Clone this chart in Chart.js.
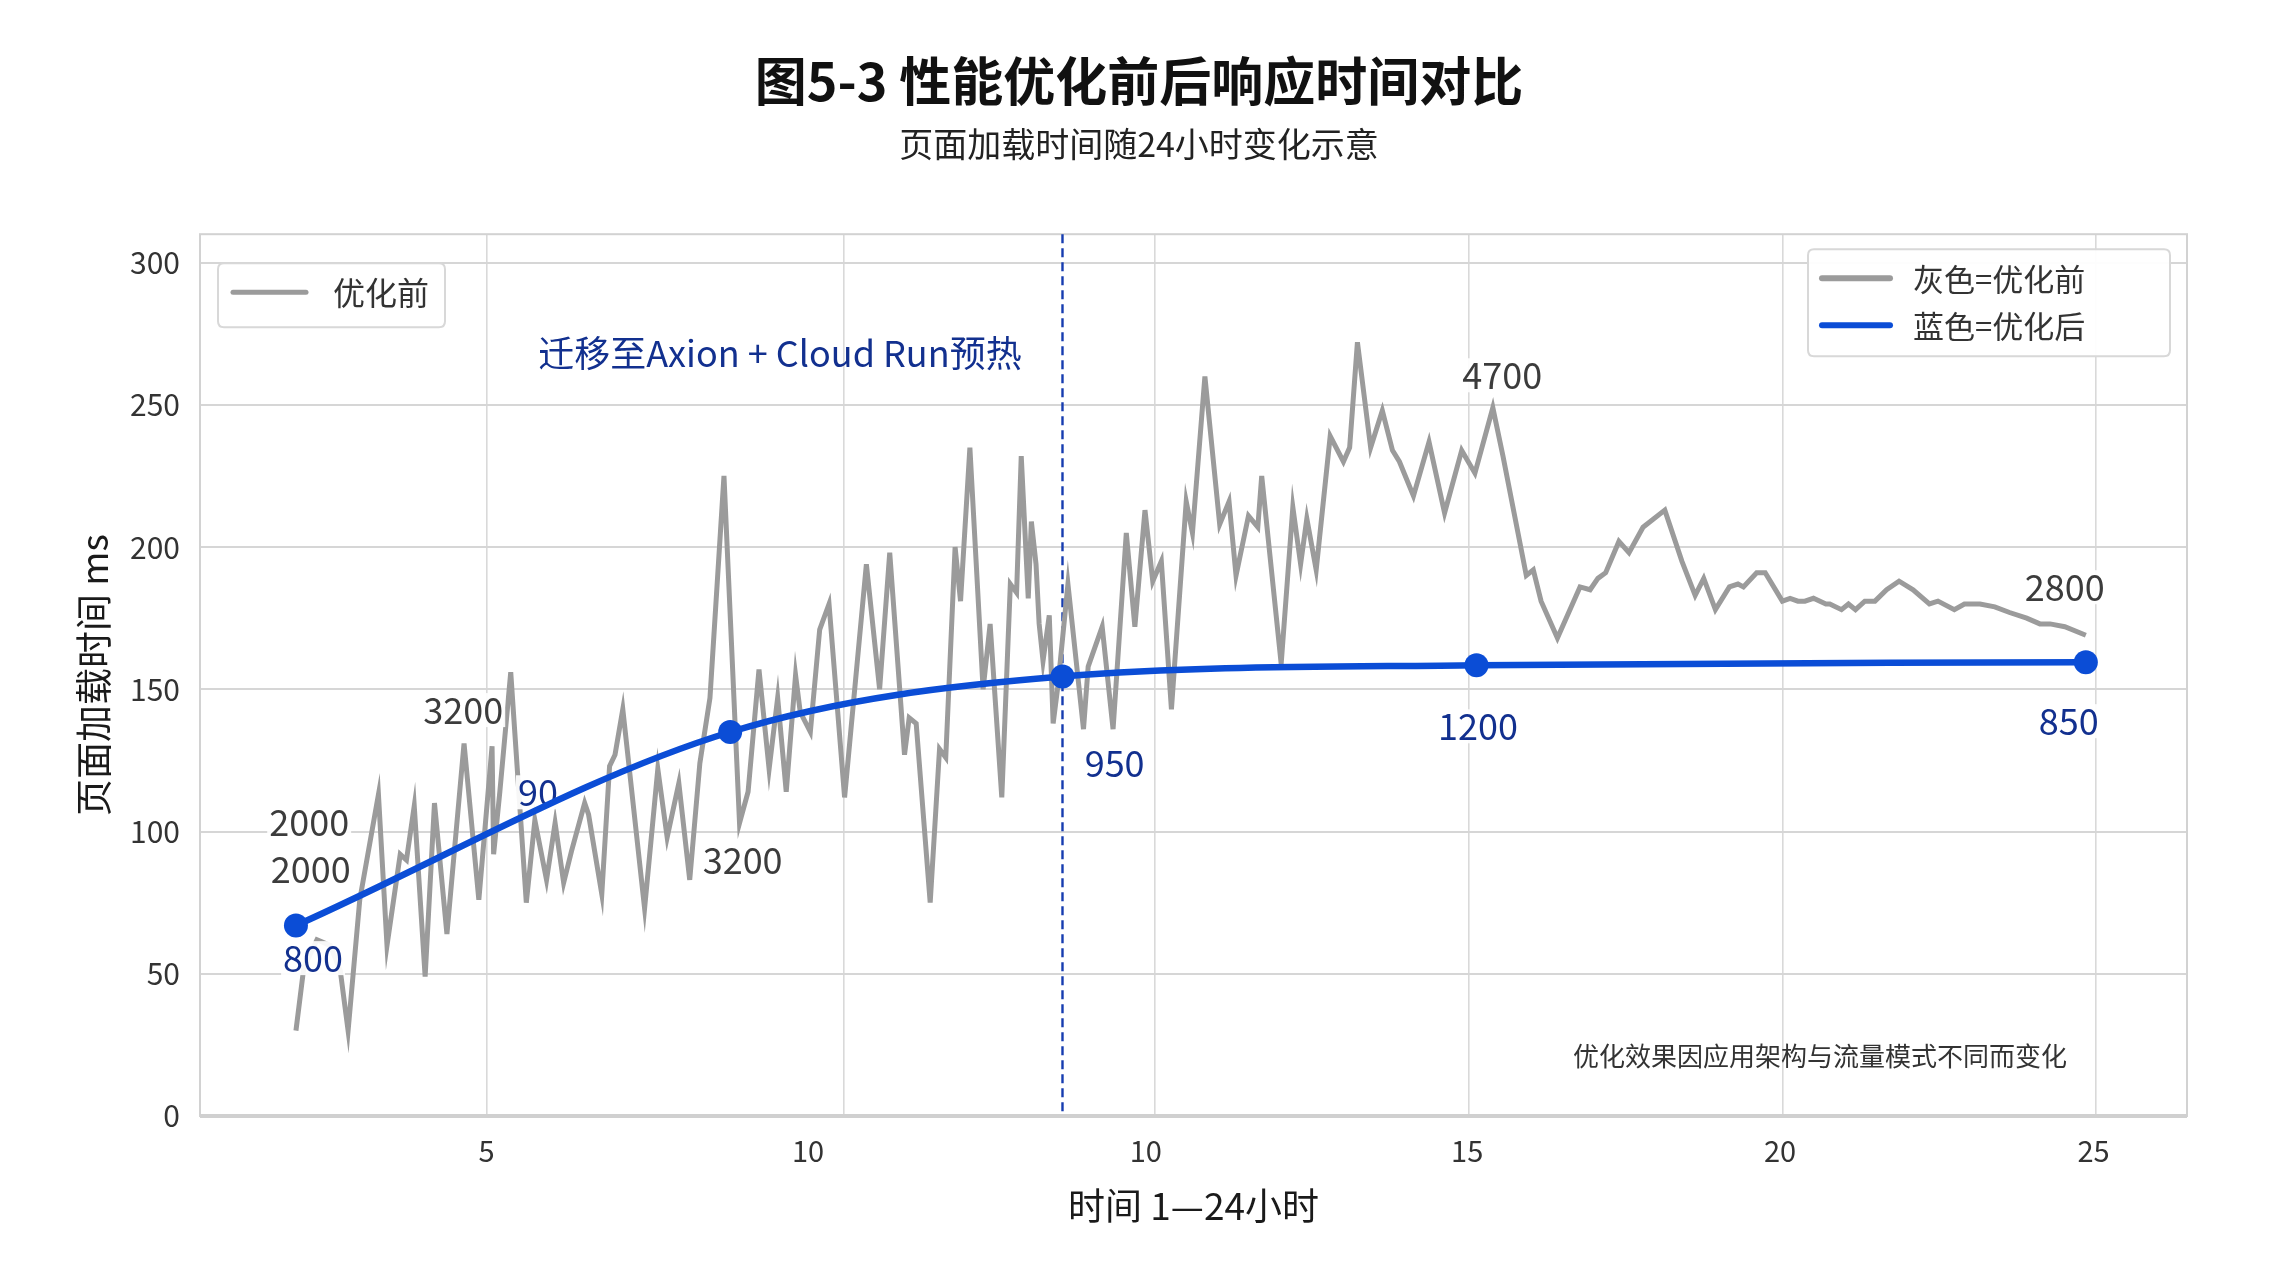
<!DOCTYPE html>
<html>
<head>
<meta charset="utf-8">
<script src="https://cdn.jsdelivr.net/npm/chart.js@4/dist/chart.umd.min.js"></script>
<style>
html,body{margin:0;padding:0;background:#ffffff;}
#wrap{width:2278px;height:1280px;}
</style>
</head>
<body>
<div id="wrap"><canvas id="c" width="2278" height="1280"></canvas></div>
<script>
// ---------- texts ----------
const titleText = '图5-3 性能优化前后响应时间对比';
const subtitleText = '页面加载时间随24小时变化示意';
const yTitleText = '页面加载时间 ms';
const xTitleText = '时间 1—24小时';
const seriesNames = ['优化前', '优化后'];
const legendLeftItems = ['优化前'];
const legendRightItems = ['灰色=优化前', '蓝色=优化后'];
const annotationText = '迁移至Axion + Cloud Run预热';
const footnoteText = '优化效果因应用架构与流量模式不同而变化';

// ---------- series: before optimisation (gray) ----------
const beforeHours = [
  1.00,1.10,1.27,1.44,1.57,1.67,1.82,2.06,2.17,2.34,2.42,2.52,2.66,2.78,2.94,3.16,3.35,3.52,3.54,3.62,
  3.76,3.96,4.07,4.22,4.33,4.44,4.54,4.71,4.76,4.93,5.03,5.10,5.20,5.48,
  5.65,5.77,5.92,6.06,6.19,6.32,6.50,6.70,6.81,6.95,7.08,7.19,7.30,7.42,7.48,7.61,7.73,7.85,8.05,8.33,
  8.50,8.63,8.82,8.88,8.97,9.15,9.27,9.35,9.47,9.54,9.66,9.83,9.92,10.07,10.18,
  10.26,10.32,10.41,10.45,10.51,10.55,10.60,10.68,10.73,10.79,10.92,11.12,11.18,11.36,11.50,11.67,11.78,
  11.91,12.01,12.12,12.25,12.44,12.52,12.68,12.87,12.99,13.08,13.24,13.36,13.41,13.66,13.81,13.91,13.99,
  14.11,14.29,14.46,14.54,14.64,14.81,
  14.96,15.09,15.18,15.36,15.56,15.76,15.98,16.15,16.38,16.51,16.81,16.90,17.00,17.21,17.50,17.63,17.73,
  17.83,18.00,18.13,18.31,18.59,18.81,18.98,19.09,19.24,
  19.42,19.53,19.60,19.77,19.88,20.10,20.20,20.30,20.39,20.50,20.66,20.71,20.86,20.95,21.04,21.16,21.29,
  21.44,21.60,21.78,21.99,22.10,22.31,22.44,22.64,22.83,23.02,23.24,23.41,23.54,23.73,24.00
];
const beforeValues = [
  30,52,62,60,51,30,76,113,60,92,90,109,49,110,64,131,76,130,92,114,
  156,75,104,83,103,82,93,110,106,78,123,127,143,73,
  122,98,117,83,124,147,225,103,114,157,122,147,114,155,142,135,171,180,112,194,
  150,198,127,140,138,75,129,126,200,181,235,150,173,112,187,
  184,232,182,209,194,173,160,176,138,151,187,136,158,172,136,205,172,
  213,188,195,143,216,205,260,208,216,190,211,207,225,159,214,194,210,
  192,239,230,235,272,235,
  248,234,230,218,237,212,234,226,249,232,190,192,181,168,186,185,189,
  191,202,198,207,213,195,183,189,178,
  186,187,186,191,191,181,182,181,181,182,180,180,178,180,178,181,181,
  185,188,185,180,181,178,180,180,179,177,175,173,173,172,169
];

// ---------- series: after optimisation (blue) ----------
const afterHours = [1.00, 6.58, 10.85, 16.17, 24.00];
const afterValues = [67, 135, 154.5, 158.5, 159.5];
const migrationHour = 10.85;

// ---------- axes ----------
const xMin = -0.233, xMax = 25.30;
const yMin = 0, yMax = 310;
const yTickValues = [0, 50, 100, 150, 200, 250, 300];
const xGridHours = [3.45, 8.04, 12.04, 16.07, 20.11, 24.13];
const xTickHours = [3.45, 7.58, 11.92, 16.05, 20.07, 24.10];
const xTickLabels = ['5', '10', '10', '15', '20', '25'];

// ---------- point labels ----------
const grayLabelText = ['2000', '2000', '3200', '3200', '4700', '2800'];
const grayLabelHour = [1.17, 1.19, 3.15, 6.74, 16.50, 23.73];
const grayLabelValue = [103.3, 86.8, 142.7, 90, 260.4, 185.9];
const blueLabelText = ['800', '90', '950', '1200', '850'];
const blueLabelHour = [1.22, 4.11, 11.52, 16.19, 23.78];
const blueLabelValue = [55.5, 113.8, 124, 137, 138.8];
const annotationHour = 7.22, annotationValue = 268;

const FONT = '"Noto Sans CJK SC", "Noto Sans", sans-serif';
const GRAY = '#9b9b9b';
const BLUE = '#0b4dd6';
const NAVY = '#12308f';

Chart.defaults.font.family = FONT;

function roundRect(ctx, x, y, w, h, r) {
  ctx.beginPath();
  ctx.moveTo(x + r, y);
  ctx.lineTo(x + w - r, y);
  ctx.quadraticCurveTo(x + w, y, x + w, y + r);
  ctx.lineTo(x + w, y + h - r);
  ctx.quadraticCurveTo(x + w, y + h, x + w - r, y + h);
  ctx.lineTo(x + r, y + h);
  ctx.quadraticCurveTo(x, y + h, x, y + h - r);
  ctx.lineTo(x, y + r);
  ctx.quadraticCurveTo(x, y, x + r, y);
  ctx.closePath();
}

function drawLabel(ctx, text, px, py, color) {
  const w = ctx.measureText(text).width;
  ctx.fillStyle = 'rgba(255,255,255,0.92)';
  ctx.fillRect(px - w / 2 - 2, py - 17, w + 4, 34);
  ctx.fillStyle = color;
  ctx.fillText(text, px, py);
}

const deco = {
  id: 'deco',
  beforeDatasetsDraw(chart) {
    const {ctx, chartArea: a, scales} = chart;
    const x = scales.x;
    ctx.save();
    // frame
    ctx.strokeStyle = '#d2d2d2';
    ctx.lineWidth = 2;
    ctx.strokeRect(a.left, a.top, a.right - a.left, a.bottom - a.top);
    ctx.strokeStyle = '#d0d0d0';
    ctx.lineWidth = 4;
    ctx.beginPath(); ctx.moveTo(a.left, a.bottom); ctx.lineTo(a.right, a.bottom); ctx.stroke();
    // migration dashed line
    const px = x.getPixelForValue(migrationHour);
    ctx.strokeStyle = '#163cb0';
    ctx.lineWidth = 2.4;
    ctx.setLineDash([9, 5]);
    ctx.beginPath(); ctx.moveTo(px, a.top); ctx.lineTo(px, a.bottom); ctx.stroke();
    ctx.setLineDash([]);
    ctx.restore();
  },
  afterDatasetDraw(chart, args) {
    if (args.index !== 0) return;
    const {ctx, scales} = chart;
    const x = scales.x, y = scales.y;
    ctx.save();
    ctx.textAlign = 'center';
    ctx.textBaseline = 'middle';
    ctx.font = '36px ' + FONT;
    grayLabelText.forEach((t, i) => {
      drawLabel(ctx, t, x.getPixelForValue(grayLabelHour[i]), y.getPixelForValue(grayLabelValue[i]), '#3c3c3c');
    });
    blueLabelText.forEach((t, i) => {
      drawLabel(ctx, t, x.getPixelForValue(blueLabelHour[i]), y.getPixelForValue(blueLabelValue[i]), NAVY);
    });
    ctx.restore();
  },
  afterDraw(chart) {
    const {ctx, chartArea: a, scales} = chart;
    const x = scales.x, y = scales.y;
    ctx.save();
    // annotation
    ctx.font = '36px ' + FONT;
    ctx.fillStyle = NAVY;
    ctx.textAlign = 'center';
    ctx.textBaseline = 'middle';
    ctx.fillText(annotationText, x.getPixelForValue(annotationHour), y.getPixelForValue(annotationValue));

    // left legend
    roundRect(ctx, a.left + 18, a.top + 29, 227, 64, 6);
    ctx.fillStyle = 'rgba(255,255,255,0.95)';
    ctx.fill();
    ctx.strokeStyle = '#d8d8d8';
    ctx.lineWidth = 2;
    ctx.stroke();
    ctx.lineCap = 'round';
    ctx.strokeStyle = GRAY;
    ctx.lineWidth = 5;
    ctx.beginPath(); ctx.moveTo(a.left + 33, a.top + 58); ctx.lineTo(a.left + 106, a.top + 58); ctx.stroke();
    ctx.font = '32px ' + FONT;
    ctx.fillStyle = '#333';
    ctx.textAlign = 'left';
    ctx.fillText(legendLeftItems[0], a.left + 133, a.top + 59);

    // right legend
    const lx = a.right - 379, ly = a.top + 15;
    roundRect(ctx, lx, ly, 362, 107, 6);
    ctx.fillStyle = 'rgba(255,255,255,0.95)';
    ctx.fill();
    ctx.strokeStyle = '#d8d8d8';
    ctx.lineWidth = 2;
    ctx.stroke();
    const colors = [GRAY, BLUE];
    const rowsY = [ly + 29, ly + 76];
    legendRightItems.forEach((t, i) => {
      ctx.strokeStyle = colors[i];
      ctx.lineWidth = 6;
      ctx.beginPath(); ctx.moveTo(lx + 14, rowsY[i]); ctx.lineTo(lx + 82, rowsY[i]); ctx.stroke();
      ctx.fillStyle = '#333';
      ctx.font = '31px ' + FONT;
      ctx.fillText(t, lx + 105, rowsY[i] + 1);
    });

    // footnote
    ctx.font = '26px ' + FONT;
    ctx.fillStyle = '#333';
    ctx.textAlign = 'right';
    ctx.fillText(footnoteText, a.right - 120, a.bottom - 60);
    ctx.restore();
  }
};

new Chart(document.getElementById('c'), {
  type: 'line',
  data: {
    datasets: [
      {
        label: seriesNames[0],
        data: beforeHours.map((h, i) => ({x: h, y: beforeValues[i]})),
        borderColor: GRAY,
        borderWidth: 5,
        pointRadius: 0,
        tension: 0,
        order: 2
      },
      {
        label: seriesNames[1],
        data: afterHours.map((h, i) => ({x: h, y: afterValues[i]})),
        borderColor: BLUE,
        backgroundColor: BLUE,
        pointBackgroundColor: BLUE,
        pointBorderWidth: 0,
        borderWidth: 6.5,
        pointRadius: 12,
        pointHoverRadius: 12,
        cubicInterpolationMode: 'monotone',
        order: 1
      }
    ]
  },
  options: {
    responsive: false,
    animation: false,
    devicePixelRatio: 1,
    layout: {padding: {left: 0, right: 0, top: 0, bottom: 0}},
    plugins: {
      legend: {display: false},
      tooltip: {enabled: false},
      title: {
        display: true, text: titleText, color: '#111',
        font: {size: 52, weight: 'bold', family: FONT},
        padding: {top: 50, bottom: 0}
      },
      subtitle: {
        display: true, text: subtitleText, color: '#222',
        font: {size: 34, family: FONT},
        padding: {top: 11, bottom: 70}
      }
    },
    scales: {
      x: {
        type: 'linear', position: 'bottom', min: xMin, max: xMax,
        afterBuildTicks: s => { s.ticks = xGridHours.map(v => ({value: v})); },
        ticks: {display: false},
        grid: {color: '#d9d9d9', lineWidth: 1.6, drawTicks: false},
        border: {display: false},
        afterFit: s => { s.height = 0; }
      },
      xl: {
        type: 'linear', position: 'bottom', min: xMin, max: xMax,
        afterBuildTicks: s => { s.ticks = xTickHours.map(v => ({value: v})); },
        ticks: {
          callback: (v, i) => xTickLabels[i],
          font: {size: 29, family: FONT}, color: '#333', padding: 18,
          maxRotation: 0, autoSkip: false
        },
        grid: {display: false, drawTicks: false},
        border: {display: false},
        title: {
          display: true, text: xTitleText, color: '#1a1a1a',
          font: {size: 37, family: FONT}, padding: {top: 0, bottom: 52}
        },
        afterFit: s => { s.height = 164; }
      },
      y: {
        type: 'linear', position: 'left', min: yMin, max: yMax,
        afterBuildTicks: s => { s.ticks = yTickValues.map(v => ({value: v})); },
        ticks: {font: {size: 30, family: FONT}, color: '#333', padding: 20},
        grid: {color: '#d6d6d6', lineWidth: 2, drawTicks: false},
        border: {display: false},
        title: {
          display: true, text: yTitleText, color: '#1a1a1a',
          font: {size: 37, family: FONT}, padding: {top: 72, bottom: 0}
        },
        afterFit: s => { s.width = 200; }
      },
      yr: {
        type: 'linear', position: 'right', display: true,
        ticks: {display: false},
        grid: {display: false, drawTicks: false},
        border: {display: false},
        afterFit: s => { s.width = 91; }
      }
    }
  },
  plugins: [deco]
});
</script>
</body>
</html>
